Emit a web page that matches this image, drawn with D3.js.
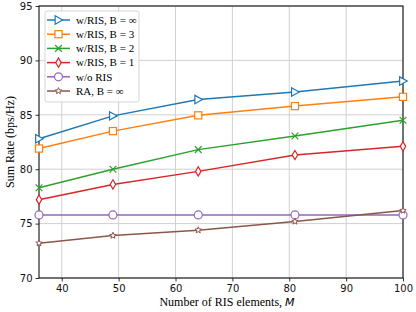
<!DOCTYPE html>
<html>
<head>
<meta charset="utf-8">
<script src="https://cdn.jsdelivr.net/npm/d3@7"></script>
<style>
  body { margin: 0; background: #fff; }
  svg { display: block; }
</style>
</head>
<body>
<svg id="chart" width="416" height="312"></svg>
<script>
// data
const mValues = [36, 49, 64, 81, 100];
const risInf = [82.8, 84.9, 86.4, 87.1, 88.1];
const ris3 = [81.9, 83.5, 84.95, 85.8, 86.65];
const ris2 = [78.3, 80.0, 81.8, 83.05, 84.5];
const ris1 = [77.2, 78.6, 79.8, 81.3, 82.1];
const noRis = [75.8, 75.8, 75.8, 75.8, 75.8];
const raInf = [73.2, 73.9, 74.4, 75.2, 76.2];
const xTicks = [40, 50, 60, 70, 80, 90, 100];
const yTicks = [70, 75, 80, 85, 90, 95];

const series = [
  { name: "w/RIS, B = \u221e", values: risInf, color: "#1f77b4", marker: "tri" },
  { name: "w/RIS, B = 3", values: ris3, color: "#ff7f0e", marker: "square" },
  { name: "w/RIS, B = 2", values: ris2, color: "#2ca02c", marker: "x" },
  { name: "w/RIS, B = 1", values: ris1, color: "#d62728", marker: "diamond" },
  { name: "w/o RIS", values: noRis, color: "#9467bd", marker: "circle" },
  { name: "RA, B = \u221e", values: raInf, color: "#8c564b", marker: "star" }
];

const margin = { top: 6, right: 13, bottom: 34, left: 39 },
      width = 416 - margin.left - margin.right,
      height = 312 - margin.top - margin.bottom;

const svg = d3.select("#chart");
const g = svg.append("g").attr("transform", `translate(${margin.left},${margin.top})`);

const x = d3.scaleLinear().domain([36, 100]).range([0, width]);
const y = d3.scaleLinear().domain([70, 95]).range([height, 0]);

// grid
g.append("g")
  .selectAll("line.gx").data(xTicks).join("line")
  .attr("x1", d => x(d)).attr("x2", d => x(d))
  .attr("y1", 0).attr("y2", height)
  .attr("stroke", "#d0d0d0").attr("stroke-width", 1);
g.append("g")
  .selectAll("line.gy").data(yTicks).join("line")
  .attr("x1", 0).attr("x2", width)
  .attr("y1", d => y(d)).attr("y2", d => y(d))
  .attr("stroke", "#d0d0d0").attr("stroke-width", 1);

// axes
const xAxis = g.append("g")
  .attr("transform", `translate(0,${height})`)
  .call(d3.axisBottom(x).tickValues(xTicks).tickSize(3.5).tickPadding(3));
const yAxis = g.append("g")
  .call(d3.axisLeft(y).tickValues(yTicks).tickSize(3.5).tickPadding(3));
[xAxis, yAxis].forEach(a => {
  a.select(".domain").remove();
  a.selectAll("text").style("font-family", "DejaVu Sans").style("font-size", "10px").attr("fill", "#111");
  a.selectAll("line").attr("stroke", "#000").attr("stroke-width", 0.8);
});

// frame
g.append("rect")
  .attr("width", width).attr("height", height)
  .attr("fill", "none").attr("stroke", "#111").attr("stroke-width", 1.1);

// markers
function drawMarker(sel, type, color, s) {
  if (type === "tri") {
    sel.append("path").attr("d", `M${-s * 0.8},${-s}L${s},0L${-s * 0.8},${s}Z`)
      .attr("fill", "#fff").attr("stroke", color).attr("stroke-width", 1.2);
  } else if (type === "square") {
    sel.append("rect").attr("x", -s * 0.85).attr("y", -s * 0.85).attr("width", s * 1.7).attr("height", s * 1.7)
      .attr("fill", "#fff").attr("stroke", color).attr("stroke-width", 1.2);
  } else if (type === "x") {
    sel.append("path").attr("d", `M${-s * 0.8},${-s * 0.8}L${s * 0.8},${s * 0.8}M${-s * 0.8},${s * 0.8}L${s * 0.8},${-s * 0.8}`)
      .attr("stroke", color).attr("stroke-width", 1.2);
  } else if (type === "diamond") {
    sel.append("path").attr("d", `M0,${-s * 1.1}L${s * 0.65},0L0,${s * 1.1}L${-s * 0.65},0Z`)
      .attr("fill", "#fff").attr("stroke", color).attr("stroke-width", 1.2);
  } else if (type === "circle") {
    sel.append("circle").attr("r", s * 0.95)
      .attr("fill", "#fff").attr("stroke", color).attr("stroke-width", 1.2);
  } else if (type === "star") {
    const pts = d3.range(10).map(i => {
      const r = i % 2 === 0 ? s * 0.8 : s * 0.35;
      const a = -Math.PI / 2 + i * Math.PI / 5;
      return [r * Math.cos(a), r * Math.sin(a)];
    });
    sel.append("path").attr("d", "M" + pts.join("L") + "Z")
      .attr("fill", "#fff").attr("stroke", color).attr("stroke-width", 1);
  }
}

const line = d3.line().x(d => x(d[0])).y(d => y(d[1]));
const plot = g.append("g");
series.forEach(s => {
  const pts = mValues.map((m, i) => [m, s.values[i]]);
  plot.append("path").datum(pts).attr("d", line)
    .attr("fill", "none").attr("stroke", s.color).attr("stroke-width", 1.5);
  pts.forEach(p => {
    const mk = plot.append("g").attr("transform", `translate(${x(p[0])},${y(p[1])})`);
    drawMarker(mk, s.marker, s.color, 4.2);
  });
});

// legend
const lg = g.append("g").attr("transform", "translate(6,5)");
lg.append("rect").attr("width", 94).attr("height", 91).attr("rx", 2)
  .attr("fill", "#fff").attr("fill-opacity", 0.85).attr("stroke", "#ccc").attr("stroke-width", 0.8);
series.forEach((s, i) => {
  const row = lg.append("g").attr("transform", `translate(0,${9 + i * 14.2})`);
  row.append("line").attr("x1", 2).attr("x2", 25).attr("stroke", s.color).attr("stroke-width", 1.5);
  const mk = row.append("g").attr("transform", "translate(13.5,0)");
  drawMarker(mk, s.marker, s.color, 4.2);
  row.append("text").attr("x", 31).attr("y", 3.8).text(s.name)
    .style("font-family", "Liberation Serif").style("font-size", "11px").attr("fill", "#000");
});

// axis labels
const xl = svg.append("text")
  .attr("x", margin.left + width / 2 + 6).attr("y", 306)
  .attr("text-anchor", "middle")
  .style("font-family", "Liberation Serif").style("font-size", "12px");
xl.append("tspan").text("Number of RIS elements, ");
xl.append("tspan").text("M").style("font-family", "DejaVu Sans").style("font-style", "oblique").style("font-size", "11px");

svg.append("text")
  .attr("transform", `translate(14,${margin.top + height / 2}) rotate(-90)`)
  .attr("text-anchor", "middle")
  .style("font-family", "Liberation Serif").style("font-size", "12px")
  .text("Sum Rate (bps/Hz)");
</script>
</body>
</html>
